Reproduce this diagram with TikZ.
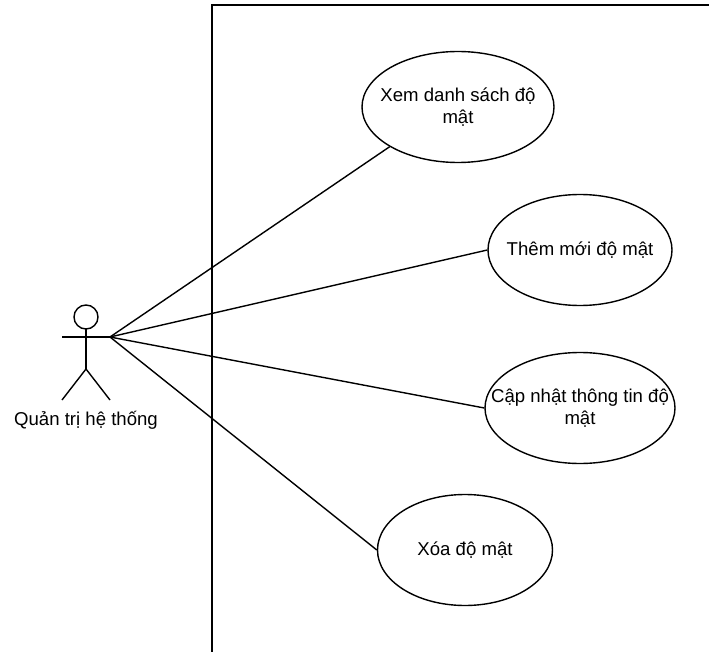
\documentclass[tikz,border=0pt]{standalone}
\usepackage{fontspec}
\setmainfont{Liberation Sans}
\usetikzlibrary{shapes.geometric}

\begin{document}
\begin{tikzpicture}[x=1pt,y=-1pt,line width=1.4pt,font=\fontsize{18.6}{22}\selectfont]
  \tikzstyle{usecase}=[draw,ellipse,inner sep=0pt,minimum height=111pt]
  \tikzstyle{txt}=[align=center,inner sep=0pt]
  \tikzstyle{link}=[black]

  \useasboundingbox (0,0) rectangle (709,652);
  \clip (0,0) rectangle (709,652);

  % system boundary
  \draw (212,5) rectangle (730,670);

  % the actor
  \coordinate (neck) at (86,329);
  \coordinate (hip) at (86,369);
  \coordinate (hand) at (110,337);
  \draw (86,317) circle [radius=12pt];
  \draw (neck) -- (hip);
  \draw (62,337) -- (hand);
  \draw (62,400) -- (hip) -- (110,400);
  \node (admin) at (86,420) {Quản trị hệ thống};

  % use cases
  \node [usecase,minimum width=192pt,label={[txt]center:Xem danh sách độ\\mật}] (view) at (458,107) {};
  \node [usecase,minimum width=184pt,label={[txt]center:Thêm mới độ mật}] (add) at (580,250) {};
  \node [usecase,minimum width=190pt,label={[txt]center:Cập nhật thông tin độ\\mật}] (edit) at (580,408) {};
  \node [usecase,minimum width=175pt,label={[txt]center:Xóa độ mật}] (del) at (465,550) {};

  % lines from the actor
  \draw [link] (hand) -- (view.south west);
  \draw [link] (hand) -- (add.west);
  \draw [link] (hand) -- (edit.west);
  \draw [link] (hand) -- (del.west);

\end{tikzpicture}
\end{document}
